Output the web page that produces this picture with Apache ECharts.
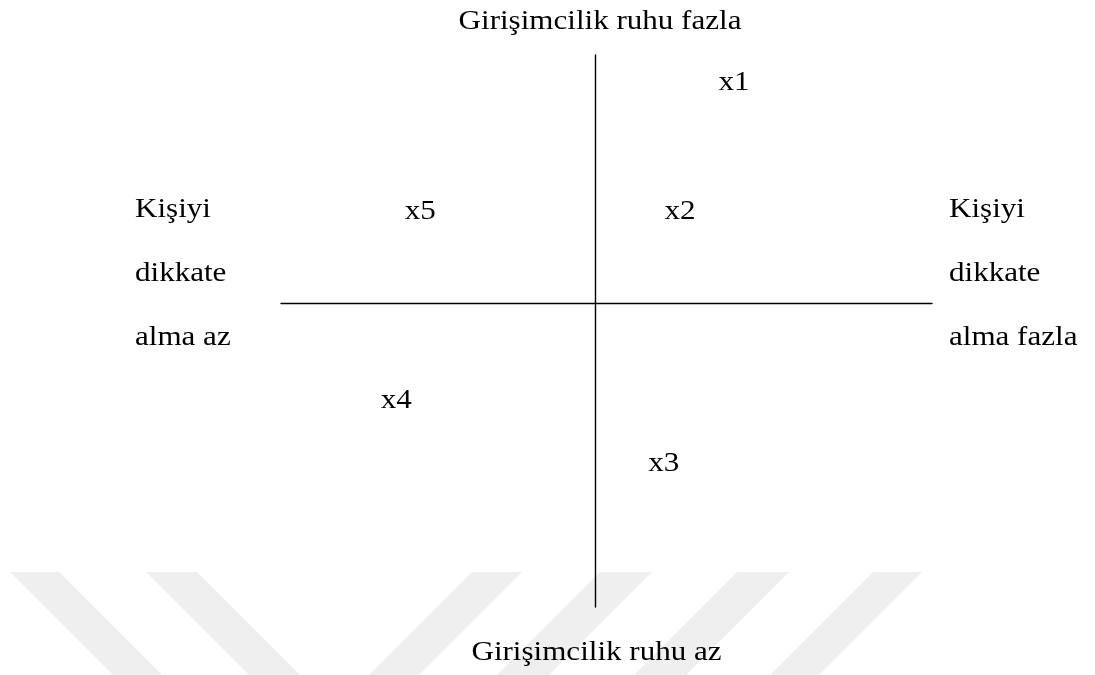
<!DOCTYPE html>
<html>
<head>
<meta charset="utf-8">
<script src="https://cdn.jsdelivr.net/npm/echarts@6/dist/echarts.min.js"></script>
<style>
html,body{margin:0;padding:0;background:#fff;}
#main{width:1095px;height:675px;}
</style>
</head>
<body>
<div id="main"></div>
<script>
// Data
var pointNames = ['x1', 'x2', 'x3', 'x4', 'x5'];
var xValues = [2.14, 1.31, 1.06, -3.05, -2.68];   // "Kişiyi dikkate alma" (az -> fazla)
var yValues = [3.99, 1.66, -2.91, -1.77, 1.66];   // "Girişimcilik ruhu" (az -> fazla)
var topLabel = 'Girişimcilik ruhu fazla';
var bottomLabel = 'Girişimcilik ruhu az';
var leftLabelLines = ['Kişiyi', 'dikkate', 'alma az'];
var rightLabelLines = ['Kişiyi', 'dikkate', 'alma fazla'];

var FAMILY = 'Liberation Serif';
var FSIZE = 27;
var SX = 1.15;

var seriesData = pointNames.map(function (n, i) { return [xValues[i], yValues[i], n]; });

function tstyle(text, align) {
  return {
    text: text, fill: '#000',
    fontFamily: FAMILY, fontSize: FSIZE,
    font: FSIZE + 'px ' + FAMILY,
    align: align, textAlign: align,
    verticalAlign: 'middle', textVerticalAlign: 'middle'
  };
}

function txt(text, x, y, align) {
  return { type: 'text', x: x, y: y, scaleX: SX, z: 10, style: tstyle(text, align) };
}

function band(xl, xr, dir) {
  var y0 = 572, y1 = 680, d = (y1 - y0) * dir;
  return {
    type: 'polygon', z: -10, silent: true,
    shape: { points: [[xl, y0], [xr, y0], [xr + d, y1], [xl + d, y1]] },
    style: { fill: '#efefef' }
  };
}

var graphics = [
  band(10, 59, 1), band(146, 197, 1),
  band(472, 522, -1), band(600, 652, -1), band(737, 789, -1), band(873, 922, -1),
  txt(topLabel, 600, 22, 'center'),
  txt(bottomLabel, 596.5, 653, 'center')
];
var rowsY = [210, 274, 338];
leftLabelLines.forEach(function (t, i) { graphics.push(txt(t, 135, rowsY[i], 'left')); });
rightLabelLines.forEach(function (t, i) { graphics.push(txt(t, 949, rowsY[i], 'left')); });

var chart = echarts.init(document.getElementById('main'), null, { renderer: 'canvas' });
chart.setOption({
  backgroundColor: '#fff',
  animation: false,
  grid: { left: 281, top: 55, width: 651, height: 552, containLabel: false },
  xAxis: {
    type: 'value', min: -4.82, max: 5.18,
    axisLine: { show: true, onZero: true, lineStyle: { color: '#000', width: 1.4 } },
    axisTick: { show: false }, axisLabel: { show: false }, splitLine: { show: false }
  },
  yAxis: {
    type: 'value', min: -5.5, max: 4.5,
    axisLine: { show: true, onZero: true, lineStyle: { color: '#000', width: 1.4 } },
    axisTick: { show: false }, axisLabel: { show: false }, splitLine: { show: false }
  },
  graphic: graphics,
  series: [{
    type: 'custom',
    data: seriesData,
    renderItem: function (params, api) {
      var p = api.coord([api.value(0), api.value(1)]);
      var name = seriesData[params.dataIndex][2];
      return { type: 'text', x: p[0], y: p[1], scaleX: SX, style: tstyle(name, 'center') };
    }
  }]
});
</script>
</body>
</html>
